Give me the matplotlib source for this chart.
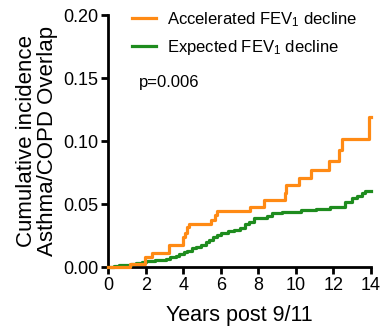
"""
cumulative incidence of asthma/COPD overlap, accelerated vs expected FEV1 decline
"""
import matplotlib

matplotlib.use("Agg")
import matplotlib.pyplot as plt

plt.rcParams["font.family"] = ["Liberation Sans", "DejaVu Sans"]
plt.rcParams["mathtext.fontset"] = "custom"
plt.rcParams["mathtext.rm"] = "Liberation Sans"
plt.rcParams["mathtext.default"] = "regular"

# step curves (years, cumulative incidence)
acc_years = [0, 1.19, 1.99, 2.34, 3.23, 3.97, 4.08, 4.2, 4.29, 5.5, 5.68, 5.8,
             7.58, 8.29, 9.4, 9.48, 10.19, 10.82, 11.75, 12.28, 12.46, 13.91, 14.0]
acc_vals = [0, 0.003, 0.0084, 0.0116, 0.018, 0.0243, 0.027, 0.032, 0.034, 0.0375,
            0.0414, 0.0449, 0.048, 0.0533, 0.0586, 0.065, 0.0705, 0.0771, 0.0842,
            0.093, 0.1014, 0.1193, 0.1193]

exp_years = [0, 0.3, 0.6, 0.9, 1.2, 1.5, 1.8, 2.0, 2.5, 3.1, 3.3, 3.6, 3.8, 4.05,
             4.2, 4.45, 4.7, 4.95, 5.2, 5.4, 5.6, 5.8, 6.0, 6.4, 6.7, 7.05, 7.31,
             7.49, 7.75, 8.47, 8.73, 9.27, 10.25, 11.1, 11.8, 12.64, 13.0, 13.26,
             13.5, 13.7, 14.0]
exp_vals = [0, 0.0008, 0.0015, 0.002, 0.0027, 0.0035, 0.0042, 0.005, 0.0055, 0.0065,
            0.0079, 0.009, 0.0105, 0.012, 0.013, 0.015, 0.0164, 0.018, 0.02, 0.022,
            0.024, 0.0256, 0.0274, 0.0285, 0.0295, 0.031, 0.0343, 0.036, 0.0388,
            0.0409, 0.0428, 0.0441, 0.0455, 0.046, 0.0475, 0.052, 0.0547, 0.0565,
            0.0586, 0.0607, 0.0607]

x_ticks = [0, 2, 4, 6, 8, 10, 12, 14]
y_ticks = [0.00, 0.05, 0.10, 0.15, 0.20]

ORANGE = "#FF8A14"
GREEN = "#1E8C1E"

fig = plt.figure(figsize=(3.82, 3.30), dpi=100)
ax = fig.add_axes([0.283, 0.19, 0.688, 0.764])

ax.step(exp_years, exp_vals, where="post", color=GREEN, lw=2.3,
        label="Expected FEV$_1$ decline", clip_on=False, zorder=3)
ax.step(acc_years, acc_vals, where="post", color=ORANGE, lw=2.3,
        label="Accelerated FEV$_1$ decline", clip_on=False, zorder=4)

ax.set_xlim(0, 14)
ax.set_ylim(0, 0.20)
ax.set_xticks(x_ticks)
ax.set_yticks(y_ticks)
ax.set_yticklabels([f"{v:.2f}" for v in y_ticks])
ax.tick_params(direction="out", length=5, width=2, labelsize=13, pad=2)

for side in ["top", "right"]:
    ax.spines[side].set_visible(False)
for side in ["left", "bottom"]:
    ax.spines[side].set_linewidth(2)

ax.set_xlabel("Years post 9/11", fontsize=15.5, labelpad=8)
ax.set_ylabel("Cumulative incidence\nAsthma/COPD Overlap", fontsize=16,
              linespacing=1.0, labelpad=4)

handles, labels = ax.get_legend_handles_labels()
ax.legend(handles[::-1], labels[::-1], loc="upper left", bbox_to_anchor=(0.033, 1.08),
          frameon=False, fontsize=12, handlelength=1.45, handletextpad=0.65,
          labelspacing=0.55)

ax.text(0.118, 0.734, "p=0.006", transform=ax.transAxes, fontsize=12, va="center")

fig.savefig("out.png", dpi=100)
